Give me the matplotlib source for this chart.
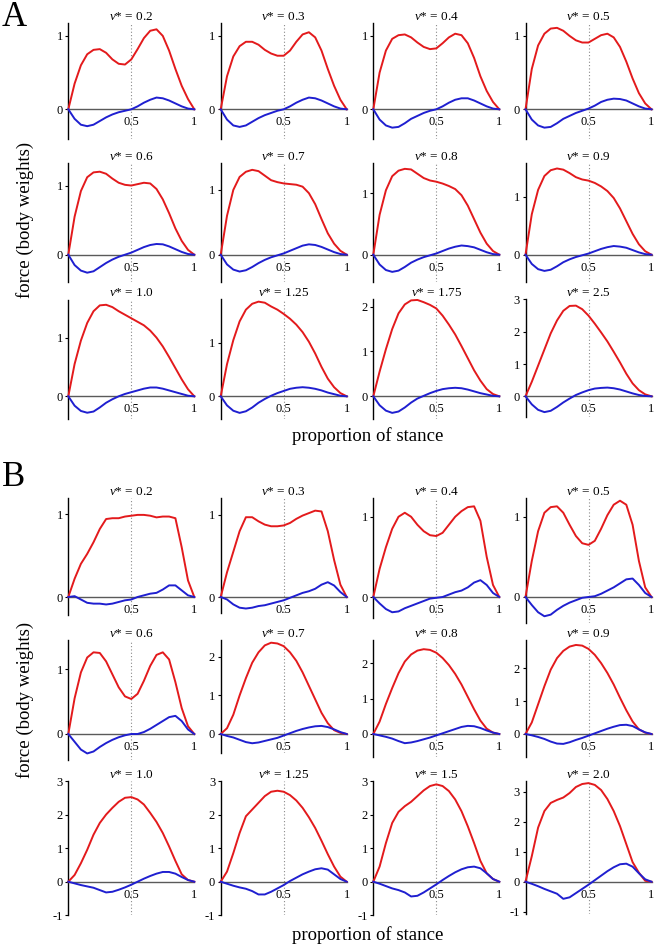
import numpy as np
import matplotlib.pyplot as plt

plt.rcParams['font.family'] = 'Liberation Serif'
plt.rcParams['mathtext.fontset'] = 'custom'
plt.rcParams['mathtext.rm'] = 'Liberation Serif'
plt.rcParams['mathtext.it'] = 'Liberation Serif:italic'

# --- dados ---
stance = [0.0, 0.05, 0.1, 0.15, 0.2, 0.25, 0.3, 0.35, 0.4, 0.45, 0.5,
          0.55, 0.6, 0.65, 0.7, 0.75, 0.8, 0.85, 0.9, 0.95, 1.0]

speeds_A = ['0.2', '0.3', '0.4', '0.5', '0.6', '0.7', '0.8', '0.9', '1.0', '1.25', '1.75', '2.5']
speeds_B = ['0.2', '0.3', '0.4', '0.5', '0.6', '0.7', '0.8', '0.9', '1.0', '1.25', '1.5', '2.0']

# forca vertical (vermelho) - painel A
vert_A = [
    [0, .35, .60, .75, .81, .82, .77, .68, .62, .61, .68, .82, .97, 1.07, 1.09, 1.0, .80, .55, .32, .14, 0],
    [0, .45, .72, .86, .92, .92, .88, .81, .76, .73, .73, .80, .92, 1.02, 1.05, .98, .80, .55, .32, .13, 0],
    [0, .50, .80, .96, 1.01, 1.02, .98, .91, .85, .82, .83, .90, .98, 1.03, 1.01, .90, .70, .45, .25, .10, 0],
    [0, .55, .87, 1.03, 1.10, 1.11, 1.07, 1.0, .94, .91, .91, .96, 1.01, 1.03, .98, .85, .65, .42, .22, .08, 0],
    [0, .55, .92, 1.12, 1.19, 1.20, 1.17, 1.10, 1.04, 1.01, 1.0, 1.02, 1.04, 1.03, .95, .80, .60, .38, .20, .07, 0],
    [0, .60, 1.0, 1.20, 1.28, 1.31, 1.29, 1.22, 1.15, 1.12, 1.10, 1.09, 1.08, 1.05, .95, .78, .55, .33, .17, .06, 0],
    [0, .65, 1.05, 1.28, 1.37, 1.40, 1.39, 1.32, 1.25, 1.21, 1.19, 1.16, 1.12, 1.07, .97, .80, .58, .36, .18, .06, 0],
    [0, .70, 1.12, 1.36, 1.46, 1.49, 1.47, 1.41, 1.34, 1.30, 1.28, 1.24, 1.18, 1.10, .98, .80, .58, .36, .18, .06, 0],
    [0, .55, .95, 1.25, 1.45, 1.55, 1.56, 1.52, 1.45, 1.39, 1.33, 1.27, 1.21, 1.12, 1.0, .85, .67, .48, .29, .12, 0],
    [0, .60, 1.05, 1.40, 1.62, 1.73, 1.77, 1.75, 1.68, 1.62, 1.54, 1.45, 1.34, 1.20, 1.02, .80, .55, .33, .17, .06, 0],
    [0, .55, 1.05, 1.50, 1.85, 2.05, 2.14, 2.15, 2.10, 2.04, 1.96, 1.80, 1.60, 1.38, 1.12, .85, .58, .35, .16, .05, 0],
    [0, .45, .95, 1.45, 1.95, 2.35, 2.65, 2.80, 2.81, 2.70, 2.50, 2.25, 1.98, 1.70, 1.38, 1.05, .70, .40, .19, .06, 0],
]

# forca horizontal (azul) - painel A
horiz_A = [
    [0, -.13, -.21, -.23, -.21, -.16, -.11, -.07, -.04, -.02, 0, .04, .09, .13, .16, .15, .12, .08, .04, .01, 0],
    [0, -.14, -.22, -.24, -.22, -.17, -.12, -.08, -.05, -.02, 0, .04, .09, .13, .16, .15, .12, .08, .04, .01, 0],
    [0, -.14, -.22, -.25, -.24, -.19, -.13, -.09, -.05, -.02, 0, .04, .09, .13, .15, .15, .12, .08, .04, .01, 0],
    [0, -.14, -.22, -.25, -.24, -.19, -.13, -.09, -.05, -.02, .01, .05, .10, .13, .145, .14, .12, .08, .04, .01, 0],
    [0, -.15, -.23, -.26, -.24, -.18, -.12, -.07, -.03, .0, .03, .07, .11, .14, .155, .15, .12, .08, .04, .01, 0],
    [0, -.15, -.23, -.26, -.24, -.19, -.13, -.08, -.04, -.01, .02, .06, .10, .14, .16, .15, .12, .08, .04, .01, 0],
    [0, -.16, -.25, -.28, -.26, -.20, -.13, -.08, -.04, -.01, .02, .06, .10, .13, .15, .14, .12, .08, .04, .01, 0],
    [0, -.16, -.25, -.28, -.26, -.20, -.13, -.08, -.04, -.01, .02, .06, .10, .13, .15, .14, .12, .08, .04, .01, 0],
    [0, -.16, -.25, -.28, -.26, -.19, -.11, -.05, .0, .04, .07, .10, .13, .15, .15, .13, .10, .07, .04, .01, 0],
    [0, -.17, -.27, -.31, -.28, -.21, -.12, -.05, .01, .06, .10, .14, .16, .17, .16, .14, .11, .07, .04, .01, 0],
    [0, -.20, -.32, -.37, -.34, -.25, -.14, -.05, .01, .07, .12, .16, .18, .19, .18, .15, .11, .07, .04, .01, 0],
    [0, -.25, -.42, -.49, -.45, -.33, -.19, -.07, .04, .12, .19, .24, .26, .27, .25, .21, .15, .09, .04, .01, 0],
]

# forca vertical (vermelho) - painel B
vert_B = [
    [0, .22, .40, .52, .66, .82, .94, .95, .95, .97, .98, .99, .99, .98, .96, .97, .97, .95, .60, .20, 0],
    [0, .30, .55, .80, .97, .97, .92, .88, .86, .86, .87, .90, .95, .99, 1.02, 1.05, 1.04, .80, .45, .15, 0],
    [0, .35, .62, .85, 1.0, 1.05, 1.0, .90, .82, .77, .76, .80, .90, 1.0, 1.07, 1.12, 1.13, .95, .50, .15, 0],
    [0, .45, .82, 1.05, 1.12, 1.13, 1.05, .90, .76, .67, .65, .70, .85, 1.02, 1.15, 1.20, 1.15, .90, .45, .12, 0],
    [0, .55, .95, 1.18, 1.26, 1.25, 1.12, .92, .72, .58, .54, .62, .82, 1.05, 1.22, 1.26, 1.15, .80, .40, .12, 0],
    [0, .15, .50, 1.0, 1.45, 1.85, 2.12, 2.30, 2.37, 2.35, 2.28, 2.12, 1.90, 1.60, 1.25, .90, .55, .28, .10, .03, 0],
    [0, .35, .85, 1.30, 1.72, 2.05, 2.25, 2.36, 2.40, 2.38, 2.30, 2.15, 1.95, 1.70, 1.40, 1.05, .70, .38, .15, .04, 0],
    [0, .35, .90, 1.45, 1.95, 2.30, 2.52, 2.65, 2.70, 2.68, 2.58, 2.40, 2.15, 1.85, 1.50, 1.10, .72, .38, .14, .04, 0],
    [0, .20, .55, .95, 1.40, 1.75, 2.00, 2.20, 2.38, 2.50, 2.52, 2.45, 2.30, 2.05, 1.78, 1.45, 1.05, .62, .22, .05, 0],
    [0, .30, .85, 1.45, 1.95, 2.15, 2.35, 2.55, 2.68, 2.71, 2.68, 2.58, 2.42, 2.20, 1.92, 1.60, 1.22, .82, .45, .15, 0],
    [0, .45, 1.15, 1.75, 2.08, 2.25, 2.38, 2.55, 2.72, 2.85, 2.90, 2.85, 2.70, 2.45, 2.10, 1.65, 1.15, .62, .25, .08, 0],
    [0, .85, 1.80, 2.35, 2.62, 2.72, 2.80, 2.95, 3.15, 3.25, 3.28, 3.22, 3.05, 2.75, 2.35, 1.85, 1.25, .65, .30, .03, 0],
]

# forca horizontal (azul) - painel B
horiz_B = [
    [0, .01, -.03, -.07, -.08, -.08, -.09, -.08, -.06, -.04, -.03, 0, .02, .04, .05, .09, .14, .14, .08, .02, 0],
    [0, -.03, -.09, -.13, -.14, -.13, -.11, -.10, -.08, -.06, -.04, -.01, .02, .05, .07, .10, .15, .18, .14, .06, 0],
    [0, -.08, -.15, -.19, -.18, -.14, -.11, -.08, -.05, -.02, -.01, 0, .03, .06, .08, .12, .18, .21, .15, .05, 0],
    [0, -.10, -.19, -.24, -.22, -.16, -.11, -.07, -.04, -.01, 0, .01, .04, .08, .12, .17, .22, .23, .15, .05, 0],
    [0, -.12, -.24, -.30, -.27, -.20, -.14, -.09, -.05, -.02, 0, 0, .03, .08, .14, .20, .26, .28, .20, .07, 0],
    [0, -.05, -.09, -.15, -.21, -.24, -.22, -.18, -.14, -.10, -.04, .02, .08, .13, .17, .20, .21, .18, .12, .05, 0],
    [0, -.04, -.08, -.13, -.20, -.26, -.24, -.20, -.15, -.10, -.04, .02, .08, .14, .20, .23, .22, .17, .10, .04, 0],
    [0, -.04, -.09, -.15, -.23, -.29, -.30, -.25, -.18, -.12, -.05, .02, .09, .16, .22, .27, .28, .24, .14, .05, 0],
    [0, -.05, -.10, -.14, -.18, -.25, -.32, -.30, -.24, -.17, -.09, 0, .09, .17, .24, .29, .29, .24, .14, .05, 0],
    [0, -.06, -.12, -.17, -.21, -.28, -.38, -.38, -.30, -.20, -.10, .02, .12, .22, .30, .37, .40, .36, .22, .08, 0],
    [0, -.06, -.13, -.20, -.25, -.32, -.44, -.42, -.32, -.20, -.08, .05, .17, .28, .37, .43, .45, .40, .25, .08, 0],
    [0, -.07, -.15, -.24, -.32, -.40, -.57, -.52, -.38, -.24, -.10, .05, .20, .35, .48, .58, .60, .50, .28, .08, 0],
]

# limites do eixo y de cada quadro
ylo_A = [-.40, -.40, -.40, -.40, -.39, -.42, -.44, -.47, -.39, -.42, -.51, -.65]
yhi_A = [1.18, 1.18, 1.18, 1.18, 1.33, 1.42, 1.50, 1.59, 1.65, 1.81, 2.16, 3.0]
ylo_B = [-.22, -.20, -.26, -.32, -.40, -.50, -.66, -.69, -1.0, -1.0, -1.0, -1.07]
yhi_B = [1.19, 1.20, 1.23, 1.23, 1.45, 2.44, 2.66, 2.85, 3.0, 3.0, 3.0, 3.35]

# --- layout (pixels) ---
W, H = 656, 944
col_left = [68.3, 220.7, 373.3, 525.5]
col_width = 126.0
tops_A, zeros_A = [22.7, 162.7, 299.5], [109.3, 254.7, 396.3]
tops_B, zeros_B = [498.3, 640.0, 781.0], [597.0, 734.0, 881.7]

fig = plt.figure(figsize=(W / 100, H / 100), dpi=100)


def desenha_painel(speeds, vert, horiz, ylo, yhi, tops, zeros):
    for i in range(12):
        r, c = divmod(i, 4)
        lo, hi = ylo[i], yhi[i]
        u = (zeros[r] - tops[r]) / hi
        bottom_px = zeros[r] - lo * u
        ax = fig.add_axes([col_left[c] / W, 1 - bottom_px / H,
                           col_width / W, (hi - lo) * u / H])
        ax.set_xlim(0, 1)
        ax.set_ylim(lo, hi)
        ax.axvline(0.5, color='#8a8a8a', lw=0.8, ls=(0, (1, 2)), zorder=1)
        ax.plot(stance, vert[i], color='#e31a1c', lw=1.4, clip_on=False, zorder=3)
        ax.plot(stance, horiz[i], color='#1f1fd0', lw=1.4, clip_on=False, zorder=3)

        for s in ['top', 'right']:
            ax.spines[s].set_visible(False)
        ax.spines['bottom'].set_position(('data', 0))
        ax.spines['bottom'].set_color('#5a5a5a')
        ax.spines['bottom'].set_linewidth(1.0)
        ax.spines['left'].set_linewidth(1.0)
        ax.patch.set_alpha(0)

        ax.set_xticks([0.5, 1])
        ax.set_xticklabels(['0.5', '1'])
        ax.tick_params(axis='x', length=0, pad=5, labelsize=9)
        yt = [k for k in range(-1, 4) if lo - 1e-6 <= k <= hi]
        ax.set_yticks(yt)
        ax.set_yticklabels([str(k) for k in yt])
        ax.tick_params(axis='y', length=2.5, width=0.8, pad=1.5, labelsize=9)

        fig.text((col_left[c] + col_width / 2) / W, 1 - (tops[r] - 6) / H,
                 r'$v$* = ' + speeds[i], ha='center', va='center', fontsize=9.5)


desenha_painel(speeds_A, vert_A, horiz_A, ylo_A, yhi_A, tops_A, zeros_A)
desenha_painel(speeds_B, vert_B, horiz_B, ylo_B, yhi_B, tops_B, zeros_B)

# rotulos gerais
fig.text(14 / W, 1 - 17 / H, 'A', fontsize=25, ha='center', va='center')
fig.text(14 / W, 1 - 478 / H, 'B', fontsize=25, ha='center', va='center')
for yc in [220, 700]:
    fig.text(25 / W, 1 - yc / H, 'force (body weights)', rotation=90,
             fontsize=13.5, ha='center', va='center')
for yc in [436, 935]:
    fig.text(368 / W, 1 - yc / H, 'proportion of stance',
             fontsize=13.5, ha='center', va='center')

fig.savefig('out.png', dpi=100)
